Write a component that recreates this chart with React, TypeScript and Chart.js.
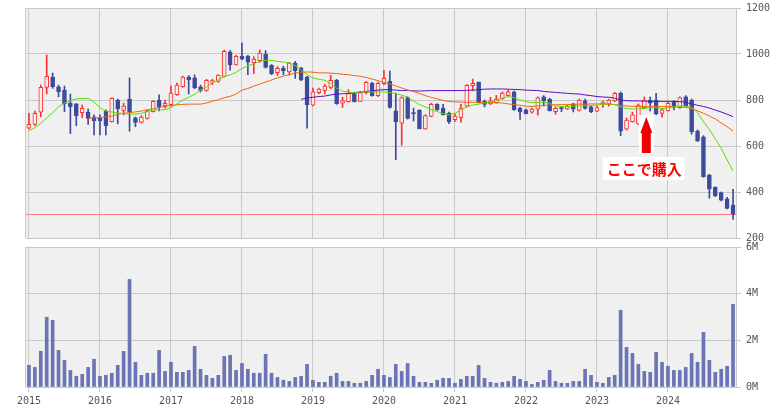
import React, { useEffect, useRef } from 'react';
import { Chart, registerables } from 'chart.js';

Chart.register(...registerables);

// ---------- data ----------
const YEARS = [2015, 2016, 2017, 2018, 2019, 2020, 2021, 2022, 2023, 2024];
const MONTHS = ['01', '02', '03', '04', '05', '06', '07', '08', '09', '10', '11', '12'];
const LABELS = YEARS.flatMap((y) => MONTHS.map((m) => `${y}/${m}`));

const OPEN = [
  677, 694, 747, 855, 900, 857, 843, 787, 783, 745, 747, 727,
  723, 751, 706, 800, 755, 804, 722, 703, 720, 749, 800, 775,
  780, 823, 858, 900, 896, 857, 842, 878, 881, 903, 1009, 953,
  990, 990, 962, 971, 1000, 951, 919, 939, 922, 961, 939, 900,
  777, 832, 842, 855, 886, 786, 793, 828, 794, 832, 873, 819,
  871, 881, 753, 699, 810, 745, 755, 674, 729, 781, 765, 743,
  714, 723, 773, 862, 878, 794, 783, 788, 806, 819, 835, 765,
  757, 747, 760, 814, 803, 749, 767, 760, 783, 755, 796, 770,
  751, 784, 783, 796, 830, 673, 706, 696, 767, 800, 800, 742,
  753, 793, 767, 814, 800, 665, 640, 474, 420, 397, 370, 343,
];
const HIGH = [
  742, 752, 865, 996, 917, 865, 861, 826, 785, 778, 761, 735,
  735, 757, 810, 804, 786, 896, 726, 732, 758, 797, 822, 800,
  860, 874, 904, 906, 909, 865, 890, 890, 910, 1017, 1015, 994,
  1049, 994, 988, 1017, 1015, 954, 945, 947, 964, 968, 942, 903,
  852, 852, 868, 908, 890, 812, 845, 832, 838, 881, 877, 878,
  929, 926, 830, 814, 814, 765, 758, 736, 786, 784, 781, 748,
  739, 781, 867, 891, 878, 800, 812, 820, 835, 842, 839, 768,
  761, 765, 814, 819, 807, 770, 771, 778, 786, 804, 804, 773,
  774, 796, 804, 833, 835, 722, 747, 783, 813, 813, 829, 761,
  790, 797, 814, 819, 804, 670, 645, 477, 423, 400, 377, 412,
];
const LOW = [
  674, 690, 727, 827, 851, 814, 749, 654, 688, 723, 694, 648,
  648, 648, 704, 696, 735, 664, 684, 700, 717, 748, 753, 765,
  773, 820, 855, 826, 849, 835, 838, 867, 877, 900, 930, 951,
  974, 910, 915, 964, 939, 910, 907, 910, 909, 894, 884, 678,
  774, 827, 826, 849, 781, 767, 790, 791, 793, 826, 817, 814,
  867, 765, 540, 603, 717, 709, 674, 673, 727, 755, 734, 697,
  707, 704, 770, 840, 787, 770, 780, 786, 803, 816, 755, 716,
  739, 743, 734, 774, 752, 738, 749, 758, 748, 752, 760, 745,
  749, 768, 773, 793, 645, 670, 704, 693, 764, 752, 736, 725,
  751, 757, 764, 773, 651, 619, 464, 373, 380, 361, 326, 281,
];
const CLOSE = [
  694, 742, 855, 903, 858, 836, 783, 771, 732, 764, 720, 710,
  709, 688, 807, 761, 774, 748, 703, 726, 751, 794, 770, 786,
  830, 865, 900, 887, 854, 842, 886, 884, 908, 1012, 953, 990,
  977, 965, 978, 1004, 942, 913, 938, 928, 960, 928, 887, 780,
  835, 848, 861, 886, 784, 797, 829, 793, 832, 877, 819, 873,
  894, 768, 706, 810, 720, 741, 675, 732, 781, 758, 736, 706,
  730, 765, 864, 873, 790, 781, 796, 804, 830, 835, 758, 748,
  741, 761, 809, 796, 754, 764, 761, 774, 760, 800, 763, 749,
  767, 791, 800, 829, 665, 713, 735, 778, 800, 786, 739, 757,
  786, 768, 810, 775, 662, 623, 467, 413, 383, 364, 329, 304,
];

// volume, in millions of shares
const VOLUME_M = [
  0.93, 0.84, 1.53, 2.99, 2.86, 1.57, 1.14, 0.71, 0.46, 0.54, 0.84, 1.19,
  0.46, 0.5, 0.59, 0.93, 1.53, 4.61, 1.06, 0.5, 0.59, 0.59, 1.57, 0.67,
  1.06, 0.63, 0.63, 0.71, 1.74, 0.76, 0.5, 0.37, 0.5, 1.31, 1.36, 0.71,
  1.01, 0.76, 0.59, 0.59, 1.4, 0.59, 0.41, 0.29, 0.24, 0.41, 0.46, 0.97,
  0.29, 0.2, 0.2, 0.46, 0.59, 0.24, 0.24, 0.16, 0.16, 0.24, 0.5, 0.76,
  0.5, 0.41, 0.97, 0.67, 1.01, 0.46, 0.2, 0.2, 0.16, 0.29, 0.37, 0.37,
  0.16, 0.33, 0.46, 0.46, 0.93, 0.37, 0.2, 0.16, 0.2, 0.24, 0.46, 0.33,
  0.24, 0.11, 0.2, 0.29, 0.71, 0.24, 0.16, 0.16, 0.24, 0.24, 0.76, 0.5,
  0.2, 0.16, 0.41, 0.5, 3.29, 1.7, 1.44, 0.97, 0.67, 0.63, 1.49, 1.06,
  0.89, 0.71, 0.71, 0.84, 1.44, 1.06, 2.34, 1.14, 0.63, 0.76, 0.89, 3.54,
];

// moving averages
const MA_SHORT = [
  665, 680, 699, 722, 745, 770, 786, 797, 805, 807,
  807, 792, 766, 752, 748, 743, 741, 739, 738, 742,
  750, 757, 757, 758, 767, 783, 800, 812, 825, 843,
  858, 874, 888, 902, 909, 920, 937, 948, 958, 967,
  973, 972, 968, 965, 961, 950, 930, 910, 896, 890,
  886, 872, 852, 838, 834, 833, 835, 835, 835, 835,
  835, 832, 828, 821, 813, 795, 780, 770, 758, 750,
  741, 735, 742, 757, 770, 778, 782, 787, 792, 797,
  808, 815, 810, 800, 793, 789, 790, 790, 786, 774,
  772, 771, 773, 774, 775, 776, 778, 781, 783, 780,
  770, 763, 761, 761, 764, 766, 766, 762, 766, 770,
  774, 773, 768, 745, 705, 672, 630, 590, 540, 491,
];
const MA_MID_START = 10;
const MA_MID = [
  720, 722, 724, 727, 730, 738, 742, 745, 748, 752,
  757, 762, 768, 772, 776, 779, 781, 782, 782, 782,
  787, 795, 801, 810, 816, 826, 843, 850, 860, 869,
  878, 887, 896, 904, 910, 917, 921, 922, 921, 918,
  918, 917, 915, 912, 910, 906, 903, 898, 891, 884,
  876, 870, 861, 852, 844, 837, 828, 819, 811, 805,
  798, 794, 792, 791, 790, 790, 789, 789, 789, 788,
  787, 783, 780, 777, 773, 772, 774, 776, 778, 779,
  780, 780, 781, 782, 782, 783, 783, 783, 782, 780,
  777, 774, 772, 771, 771, 771, 771, 771, 772, 771,
  770, 768, 762, 753, 742, 730, 718, 700, 684, 665,
];
const MA_LONG_START = 46;
const MA_LONG = [
  803, 809, 812, 815,
  817, 822, 826, 827, 828, 831, 834, 837, 840, 843,
  845, 845, 843, 841, 841, 840, 839, 840, 841, 841,
  841, 841, 841, 841, 842, 843, 845, 847, 848, 848,
  848, 847, 846, 845, 843, 842, 841, 837, 835, 833,
  831, 829, 827, 826, 822, 819, 815, 813, 812, 808,
  800, 797, 796, 796, 795, 794, 794, 794, 794, 794,
  793, 790, 783, 777, 772, 765, 756, 748, 738, 728,
];

const PRICE_TICKS = { min: 200, max: 1200, step: 200 };
const VOLUME_TICKS = { min: 0, max: 6, step: 2 };
const HORIZONTAL_LINE = 304;
const BUY_INDEX = 104;
const BUY_ARROW_TOP = 735;
const BUY_TEXT = 'ここで購入';

// ---------- styles ----------
const GRID = '#c8c8c8';
const BG = '#f0f0f0';
const UP = '#ff3030';
const DOWN = '#3d4a9e';
const VOL = '#6b74b5';
const C_SHORT = '#5edc00';
const C_MID = '#ee6611';
const C_LONG = '#5a10c0';
const TICK_FONT = { family: '"DejaVu Sans Mono", monospace', size: 10 };
const TICK_COLOR = '#555555';
const PLOT_LEFT = 26;
const AXIS_W = 42;

const janGrid = (ctx: any) => (ctx.index % 12 === 0 ? GRID : 'rgba(0,0,0,0)');
const fitY = (s: any) => {
  s.width = AXIS_W;
  s.paddingTop = 0;
  s.paddingBottom = 0;
};

const bgPlugin = {
  id: 'plotBg',
  beforeDraw(chart: any) {
    const { ctx, chartArea: a } = chart;
    ctx.save();
    ctx.fillStyle = BG;
    ctx.fillRect(a.left, a.top, a.right - a.left, a.bottom - a.top);
    ctx.restore();
  },
  afterDraw(chart: any) {
    const { ctx, chartArea: a } = chart;
    ctx.save();
    ctx.strokeStyle = GRID;
    ctx.lineWidth = 1;
    ctx.beginPath();
    ctx.moveTo(a.left - 0.5, a.top);
    ctx.lineTo(a.left - 0.5, a.bottom);
    ctx.stroke();
    ctx.restore();
  },
};

const pricePlugin = {
  id: 'priceExtras',
  beforeDatasetsDraw(chart: any) {
    const { ctx, chartArea: a, scales } = chart;
    const y = Math.round(scales.y.getPixelForValue(HORIZONTAL_LINE)) + 0.5;
    ctx.save();
    ctx.strokeStyle = '#ff8080';
    ctx.lineWidth = 1;
    ctx.beginPath();
    ctx.moveTo(a.left, y);
    ctx.lineTo(a.right, y);
    ctx.stroke();
    ctx.restore();
  },
  afterDraw(chart: any) {
    const { ctx, scales } = chart;
    const cx = scales.x.getPixelForValue(BUY_INDEX);
    const top = scales.y.getPixelForValue(BUY_ARROW_TOP);
    const ax = cx + 2;
    ctx.save();
    ctx.fillStyle = '#ffffff';
    ctx.fillRect(ax - 7.5, top, 15, 39);
    ctx.fillStyle = '#f00000';
    ctx.beginPath();
    ctx.moveTo(ax, top + 2);
    ctx.lineTo(ax + 6, top + 18);
    ctx.lineTo(ax + 4.5, top + 18);
    ctx.lineTo(ax + 4.5, top + 38);
    ctx.lineTo(ax - 4.5, top + 38);
    ctx.lineTo(ax - 4.5, top + 18);
    ctx.lineTo(ax - 6, top + 18);
    ctx.closePath();
    ctx.fill();
    ctx.fillStyle = '#ffffff';
    ctx.fillRect(cx - 41.5, top + 42, 82, 23);
    ctx.fillStyle = '#ff0000';
    ctx.font = 'bold 15px "Noto Sans CJK JP", sans-serif';
    ctx.textAlign = 'center';
    ctx.textBaseline = 'middle';
    ctx.fillText(BUY_TEXT, cx, top + 54);
    ctx.restore();
  },
};

export default function App() {
  const topRef = useRef<HTMLCanvasElement | null>(null);
  const botRef = useRef<HTMLCanvasElement | null>(null);

  useEffect(() => {
    document.body.style.margin = '0';
    const isUp = OPEN.map((o, i) => CLOSE[i] >= o);

    const top = new Chart(topRef.current as HTMLCanvasElement, {
      type: 'bar',
      data: {
        labels: LABELS,
        datasets: [
          {
            type: 'line',
            data: MA_SHORT,
            borderColor: C_SHORT,
            borderWidth: 1,
            pointRadius: 0,
            tension: 0,
            order: 0,
          } as any,
          {
            type: 'line',
            data: [...Array(MA_MID_START).fill(null), ...MA_MID],
            borderColor: C_MID,
            borderWidth: 1,
            pointRadius: 0,
            tension: 0,
            order: 0,
          } as any,
          {
            type: 'line',
            data: [...Array(MA_LONG_START).fill(null), ...MA_LONG],
            borderColor: C_LONG,
            borderWidth: 1,
            pointRadius: 0,
            tension: 0,
            order: 0,
          } as any,
          {
            type: 'bar',
            data: OPEN.map((o, i) => [o, CLOSE[i]]),
            backgroundColor: isUp.map((u) => (u ? BG : DOWN)),
            borderColor: isUp.map((u) => (u ? UP : DOWN)),
            borderWidth: 1,
            borderSkipped: false,
            barThickness: 4,
            grouped: false,
            order: 1,
          } as any,
          {
            type: 'bar',
            data: LOW.map((l, i) => [l, HIGH[i]]),
            backgroundColor: isUp.map((u) => (u ? UP : DOWN)),
            borderWidth: 0,
            barThickness: 1,
            grouped: false,
            order: 2,
          } as any,
        ],
      },
      options: {
        responsive: false,
        animation: false,
        devicePixelRatio: 1,
        layout: { padding: { left: PLOT_LEFT, top: 8, bottom: 7, right: 0 } },
        plugins: { legend: { display: false }, tooltip: { enabled: false } },
        scales: {
          x: {
            type: 'category',
            offset: true,
            grid: { offset: false, color: janGrid, drawTicks: false },
            border: { display: false },
            ticks: { display: false, autoSkip: false },
            afterFit: (s: any) => {
              s.height = 0;
              s.paddingLeft = 0;
              s.paddingRight = 0;
            },
          },
          y: {
            position: 'right',
            min: PRICE_TICKS.min,
            max: PRICE_TICKS.max,
            ticks: {
              stepSize: PRICE_TICKS.step,
              font: TICK_FONT,
              color: TICK_COLOR,
              padding: 5,
              callback: (v: any) => String(v),
            },
            grid: { color: GRID, tickLength: 5 },
            border: { display: true, color: GRID },
            afterFit: fitY,
          },
        },
      } as any,
      plugins: [bgPlugin, pricePlugin],
    });

    const bot = new Chart(botRef.current as HTMLCanvasElement, {
      type: 'bar',
      data: {
        labels: LABELS,
        datasets: [
          {
            data: VOLUME_M,
            backgroundColor: VOL,
            borderWidth: 0,
            barThickness: 3,
          },
        ],
      },
      options: {
        responsive: false,
        animation: false,
        devicePixelRatio: 1,
        layout: { padding: { left: PLOT_LEFT, top: 7, bottom: 0, right: 0 } },
        plugins: { legend: { display: false }, tooltip: { enabled: false } },
        scales: {
          x: {
            type: 'category',
            offset: true,
            grid: { offset: false, color: janGrid, tickLength: 5 },
            border: { display: true, color: GRID },
            ticks: {
              autoSkip: false,
              maxRotation: 0,
              minRotation: 0,
              padding: 3,
              font: TICK_FONT,
              color: TICK_COLOR,
              callback: (_v: any, i: number) => (i % 12 === 0 ? LABELS[i].slice(0, 4) : ''),
            },
            afterFit: (s: any) => {
              s.height = 21;
              s.paddingLeft = 0;
              s.paddingRight = 0;
            },
          },
          y: {
            position: 'right',
            min: VOLUME_TICKS.min,
            max: VOLUME_TICKS.max,
            ticks: {
              stepSize: VOLUME_TICKS.step,
              font: TICK_FONT,
              color: TICK_COLOR,
              padding: 5,
              callback: (v: any) => `${v}M`,
            },
            grid: { color: GRID, tickLength: 5 },
            border: { display: true, color: GRID },
            afterFit: fitY,
          },
        },
      } as any,
      plugins: [bgPlugin],
    });

    return () => {
      top.destroy();
      bot.destroy();
    };
  }, []);

  return (
    <div style={{ position: 'fixed', left: 0, top: 0, width: 778, height: 408, background: '#ffffff' }}>
      <canvas
        ref={topRef}
        width={778}
        height={245}
        style={{ position: 'absolute', left: 0, top: 0, width: 778, height: 245 }}
      />
      <canvas
        ref={botRef}
        width={778}
        height={168}
        style={{ position: 'absolute', left: 0, top: 240, width: 778, height: 168 }}
      />
    </div>
  );
}
